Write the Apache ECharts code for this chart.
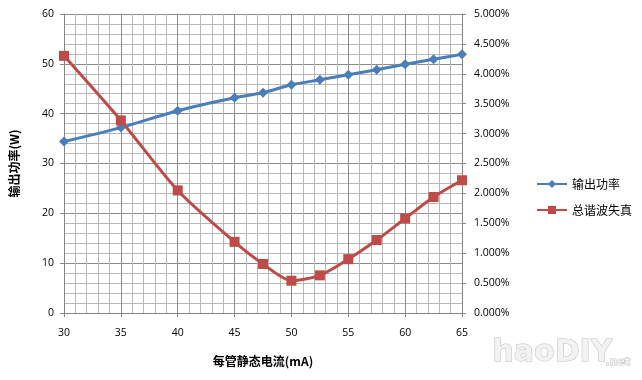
<!DOCTYPE html>
<html><head><meta charset="utf-8">
<script src="https://cdn.jsdelivr.net/npm/echarts@6/dist/echarts.min.js"></script>
<style>html,body{margin:0;padding:0;background:#fff}#c{width:642px;height:380px}</style>
</head><body><div id="c"></div>
<script>
var current = [30, 35, 40, 45, 47.5, 50, 52.5, 55, 57.5, 60, 62.5, 65];
var powerW = [34.4, 37.2, 40.6, 43.2, 44.2, 45.8, 46.8, 47.8, 48.8, 49.9, 50.9, 51.9];
var thdPct = [4.30, 3.22, 2.05, 1.19, 0.82, 0.54, 0.63, 0.90, 1.22, 1.58, 1.94, 2.22];
var seriesNames = ['输出功率', '总谐波失真'];
var xName = '每管静态电流(mA)';
var yName = '输出功率(W)';

var chart = echarts.init(document.getElementById('c'));
var lbl = {color:'#000', fontFamily:'"Open Sans", "Liberation Sans", sans-serif', fontSize:10.5};
chart.setOption({
  animation:false,
  grid:{left:64, right:180, top:14, bottom:67},
  legend:{
    orient:'vertical', left:531, top:173, itemGap:14, itemWidth:30, itemHeight:10,
    textStyle:{fontFamily:'"Noto Sans CJK SC", sans-serif', fontSize:12, color:'#000'},
    data:seriesNames
  },
  xAxis:{
    type:'value', min:30, max:65, interval:5,
    name:xName, nameLocation:'middle', nameGap:42,
    nameTextStyle:{fontFamily:'"Noto Sans CJK SC", sans-serif', fontWeight:'bold', fontSize:12, color:'#000'},
    axisLine:{lineStyle:{color:'#868686'}},
    axisTick:{show:true, length:4, lineStyle:{color:'#868686'}},
    axisLabel:Object.assign({margin:15}, lbl),
    splitLine:{show:true, lineStyle:{color:'#8c8c8c', width:1}},
    minorTick:{show:false, splitNumber:5},
    minorSplitLine:{show:true, lineStyle:{color:'#b8b8b8', width:1}}
  },
  yAxis:[{
    type:'value', min:0, max:60, interval:10,
    name:yName, nameLocation:'middle', nameGap:44, nameRotate:90,
    nameTextStyle:{fontFamily:'"Noto Sans CJK SC", sans-serif', fontWeight:'bold', fontSize:12, color:'#000'},
    axisLine:{show:true, lineStyle:{color:'#868686'}},
    axisTick:{show:true, length:4, lineStyle:{color:'#868686'}},
    axisLabel:Object.assign({margin:10}, lbl),
    splitLine:{show:true, lineStyle:{color:'#8c8c8c', width:1}},
    minorTick:{show:false, splitNumber:5},
    minorSplitLine:{show:true, lineStyle:{color:'#b8b8b8', width:1}}
  },{
    type:'value', min:0, max:5, interval:0.5, position:'right',
    axisLine:{show:true, lineStyle:{color:'#868686'}},
    axisTick:{show:true, length:4, lineStyle:{color:'#868686'}},
    axisLabel:Object.assign({margin:12, formatter:function(v){return v.toFixed(3)+'%';}}, lbl),
    splitLine:{show:false}
  }],
  series:[{
    name:seriesNames[0], type:'line', yAxisIndex:0, smooth:0.25,
    data:current.map(function(x,i){return [x, powerW[i]];}),
    symbol:'diamond', symbolSize:10,
    itemStyle:{color:'#4a7ebb'}, lineStyle:{width:3, color:'#4a7ebb'}
  },{
    name:seriesNames[1], type:'line', yAxisIndex:1, smooth:0.25,
    data:current.map(function(x,i){return [x, thdPct[i]];}),
    symbol:'rect', symbolSize:10,
    itemStyle:{color:'#be4b48'}, lineStyle:{width:3, color:'#be4b48'}
  }],
  graphic:[{
    type:'text', left:492, top:338,
    style:{text:'haoDIY', fontSize:30, fontWeight:'bold', fontFamily:'"DejaVu Sans", sans-serif', fill:'#f2f2f2', stroke:'#bdbdbd', lineWidth:1}
  },{
    type:'text', left:605, top:356,
    style:{text:'.net', fontSize:11, fontWeight:'bold', fontFamily:'"DejaVu Sans", sans-serif', fill:'#f2f2f2', stroke:'#bdbdbd', lineWidth:1}
  }]
});
</script>
</body></html>
